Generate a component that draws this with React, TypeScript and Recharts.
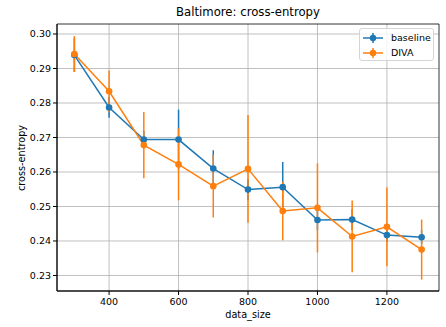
import React from 'react';
import { ComposedChart, Line, XAxis, YAxis, CartesianGrid, ErrorBar, ReferenceArea } from 'recharts';

const dataSize = [300, 400, 500, 600, 700, 800, 900, 1000, 1100, 1200, 1300];
const baselineMean = [0.2939, 0.2787, 0.2694, 0.2694, 0.2610, 0.2549, 0.2556, 0.2461, 0.2462, 0.2417, 0.2411];
const baselineErr = [0.0049, 0.0030, 0.0025, 0.0087, 0.0053, 0.0030, 0.0073, 0.0030, 0.0030, 0.0020, 0.0020];
const divaMean = [0.2942, 0.2834, 0.2678, 0.2622, 0.2559, 0.2609, 0.2487, 0.2496, 0.2413, 0.2441, 0.2375];
const divaErr = [0.0052, 0.0060, 0.0096, 0.0104, 0.0091, 0.0156, 0.0085, 0.0129, 0.0104, 0.0114, 0.0087];
const xTicks = [400, 600, 800, 1000, 1200];
const yTicks = [0.23, 0.24, 0.25, 0.26, 0.27, 0.28, 0.29, 0.3];

const data = dataSize.map((x, i) => ({
  x,
  baseline: baselineMean[i],
  baselineErr: baselineErr[i],
  diva: divaMean[i],
  divaErr: divaErr[i],
}));

const BLUE = '#1f77b4';
const ORANGE = '#ff7f0e';
const FONT = '"DejaVu Sans", sans-serif';
const X_DOMAIN: [number, number] = [250, 1350];
const Y_DOMAIN: [number, number] = [0.2255, 0.3029];

const LegendIcon = ({ color }: { color: string }) => (
  <svg width={22} height={10} style={{ display: 'block' }}>
    <line x1={1} y1={5} x2={21} y2={5} stroke={color} strokeWidth={1.5} />
    <line x1={11} y1={0} x2={11} y2={10} stroke={color} strokeWidth={1.5} />
    <circle cx={11} cy={5} r={3.2} fill={color} />
  </svg>
);

export default function App() {
  return (
    <div style={{ position: 'absolute', left: 0, top: 0, width: 446, height: 327, background: '#fff', fontFamily: FONT }}>
      <ComposedChart
        width={446}
        height={327}
        data={data}
        margin={{ top: 24, right: 7, left: 0, bottom: 0 }}
      >
        <CartesianGrid stroke="#b0b0b0" strokeWidth={0.8} verticalValues={xTicks} horizontalValues={yTicks} />
        <XAxis
          dataKey="x"
          type="number"
          domain={X_DOMAIN}
          ticks={xTicks}
          allowDataOverflow
          height={36}
          tickSize={4}
          tickMargin={3}
          stroke="#000"
          tick={{ fill: '#000', fontSize: 9.5, fontFamily: FONT }}
        />
        <YAxis
          type="number"
          domain={Y_DOMAIN}
          ticks={yTicks}
          allowDataOverflow
          width={57}
          tickSize={4}
          tickMargin={2}
          stroke="#000"
          tickFormatter={(v: number) => v.toFixed(2)}
          tick={{ fill: '#000', fontSize: 9.5, fontFamily: FONT }}
        />
        <Line
          dataKey="baseline"
          stroke={BLUE}
          strokeWidth={1.5}
          dot={{ r: 3.3, fill: BLUE, stroke: BLUE, strokeWidth: 0 }}
          activeDot={false}
          isAnimationActive={false}
        >
          <ErrorBar dataKey="baselineErr" direction="y" width={0} stroke={BLUE} strokeWidth={1.5} isAnimationActive={false} />
        </Line>
        <Line
          dataKey="diva"
          stroke={ORANGE}
          strokeWidth={1.5}
          dot={{ r: 3.3, fill: ORANGE, stroke: ORANGE, strokeWidth: 0 }}
          activeDot={false}
          isAnimationActive={false}
        >
          <ErrorBar dataKey="divaErr" direction="y" width={0} stroke={ORANGE} strokeWidth={1.5} isAnimationActive={false} />
        </Line>
        <ReferenceArea
          x1={X_DOMAIN[0]}
          x2={X_DOMAIN[1]}
          y1={Y_DOMAIN[0]}
          y2={Y_DOMAIN[1]}
          fill="none"
          stroke="#000"
          strokeWidth={0.8}
          ifOverflow="visible"
        />
      </ComposedChart>

      <div style={{ position: 'absolute', left: 0, width: 496, top: 5, textAlign: 'center', fontSize: 11.7, color: '#000', whiteSpace: 'nowrap' }}>
        Baltimore: cross-entropy
      </div>
      <div style={{ position: 'absolute', left: 0, width: 496, top: 309, textAlign: 'center', fontSize: 9.7, color: '#000' }}>
        data_size
      </div>
      <div
        style={{
          position: 'absolute',
          left: 21,
          top: 157.5,
          transform: 'translate(-50%, -50%) rotate(-90deg)',
          fontSize: 9.7,
          color: '#000',
          whiteSpace: 'nowrap',
        }}
      >
        cross-entropy
      </div>

      <div
        style={{
          position: 'absolute',
          left: 359,
          top: 28,
          width: 75,
          height: 33,
          boxSizing: 'border-box',
          border: '1px solid #d5d5d5',
          borderRadius: 3,
          background: 'rgba(255,255,255,0.8)',
          fontSize: 9.5,
          color: '#000',
        }}
      >
        <div style={{ position: 'absolute', left: 2, top: 3, display: 'flex', alignItems: 'center' }}>
          <LegendIcon color={BLUE} />
          <span style={{ marginLeft: 7, lineHeight: '11px' }}>baseline</span>
        </div>
        <div style={{ position: 'absolute', left: 2, top: 18, display: 'flex', alignItems: 'center' }}>
          <LegendIcon color={ORANGE} />
          <span style={{ marginLeft: 7, lineHeight: '11px' }}>DIVA</span>
        </div>
      </div>
    </div>
  );
}
